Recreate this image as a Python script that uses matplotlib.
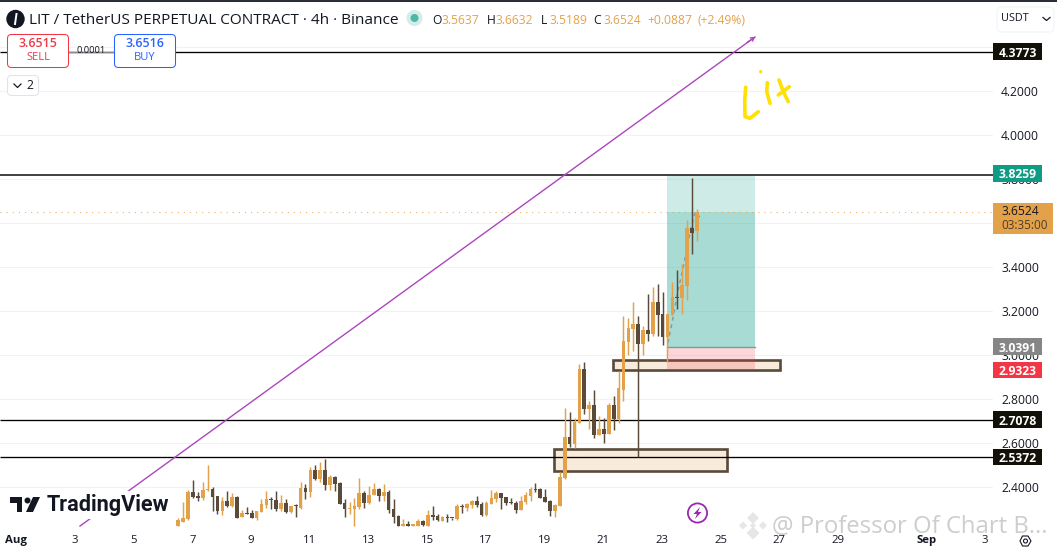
import numpy as np
import matplotlib
matplotlib.use("Agg")
import matplotlib.pyplot as plt
from matplotlib.patches import Rectangle, FancyBboxPatch, Circle, Polygon
from matplotlib.lines import Line2D
from matplotlib.transforms import Affine2D

W, H = 1057, 551
plt.rcParams['font.family'] = ['Open Sans', 'DejaVu Sans']

# OHLC, 4h candles
opens = [2.223,2.244,2.255,2.379,2.359,2.350,2.386,2.391,2.359,2.291,2.336,2.314,2.355,2.264,2.282,2.282,2.259,2.287,2.318,2.349,
         2.341,2.300,2.327,2.287,2.317,2.305,2.395,2.377,2.477,2.436,2.477,2.409,2.445,2.418,2.327,2.302,2.300,2.309,2.373,2.327,
         2.364,2.391,2.359,2.377,2.300,2.268,2.223,2.232,2.223,2.226,2.246,2.226,2.273,2.268,2.249,2.262,2.262,2.258,2.314,2.305,
         2.318,2.336,2.323,2.273,2.323,2.346,2.373,2.355,2.330,2.327,2.296,2.332,2.359,2.391,2.391,2.355,2.336,2.291,2.314,2.441,
         2.627,2.595,2.690,2.939,2.754,2.772,2.636,2.667,2.640,2.772,2.708,2.844,3.062,3.121,3.143,3.053,3.116,3.098,3.243,3.189,
         3.084,3.184,3.266,3.261,3.316,3.579,3.5637]
highs = [2.259,2.332,2.386,2.432,2.379,2.423,2.500,2.400,2.359,2.356,2.382,2.373,2.359,2.299,2.309,2.296,2.291,2.346,2.382,2.355,
         2.382,2.364,2.346,2.314,2.323,2.423,2.414,2.491,2.500,2.513,2.527,2.454,2.450,2.423,2.346,2.332,2.350,2.441,2.382,2.404,
         2.418,2.395,2.414,2.386,2.346,2.273,2.255,2.246,2.232,2.255,2.250,2.296,2.314,2.278,2.268,2.278,2.262,2.323,2.323,2.327,
         2.341,2.359,2.332,2.336,2.386,2.382,2.373,2.355,2.350,2.336,2.359,2.377,2.400,2.418,2.395,2.391,2.341,2.323,2.468,2.758,
         2.740,2.713,2.962,2.971,2.794,2.840,2.726,2.713,2.785,2.813,2.930,3.180,3.171,3.243,3.180,3.134,3.279,3.311,3.325,3.288,
         3.189,3.334,3.388,3.415,3.615,3.805,3.6632]
lows = [2.223,2.241,2.252,2.350,2.336,2.341,2.383,2.291,2.278,2.273,2.309,2.311,2.259,2.264,2.278,2.259,2.250,2.287,2.305,2.300,
        2.291,2.291,2.282,2.282,2.264,2.300,2.346,2.355,2.432,2.423,2.386,2.386,2.382,2.323,2.264,2.278,2.223,2.300,2.305,2.326,
        2.364,2.338,2.336,2.284,2.237,2.223,2.223,2.223,2.223,2.223,2.223,2.223,2.250,2.246,2.246,2.241,2.250,2.250,2.282,2.291,
        2.305,2.309,2.268,2.268,2.323,2.332,2.300,2.318,2.323,2.282,2.296,2.323,2.336,2.377,2.350,2.332,2.268,2.264,2.314,2.436,
        2.581,2.577,2.690,2.731,2.663,2.622,2.636,2.599,2.640,2.658,2.690,2.790,3.003,3.021,2.536,3.003,3.066,3.089,3.089,3.048,
        2.967,3.184,3.211,3.189,3.252,3.461,3.5189]
closes = [2.250,2.259,2.379,2.355,2.352,2.386,2.391,2.355,2.291,2.336,2.314,2.355,2.262,2.282,2.279,2.259,2.291,2.323,2.346,2.344,
          2.300,2.327,2.287,2.314,2.314,2.395,2.377,2.477,2.436,2.477,2.409,2.445,2.414,2.323,2.300,2.305,2.314,2.373,2.327,2.364,
          2.391,2.359,2.377,2.296,2.264,2.223,2.232,2.223,2.232,2.246,2.228,2.273,2.264,2.250,2.264,2.259,2.259,2.314,2.309,2.323,
          2.336,2.318,2.273,2.327,2.350,2.373,2.350,2.327,2.327,2.296,2.336,2.364,2.391,2.386,2.350,2.332,2.291,2.318,2.445,2.627,
          2.595,2.695,2.939,2.754,2.772,2.636,2.667,2.640,2.772,2.708,2.849,3.066,3.125,3.143,3.053,3.116,3.098,3.243,3.184,3.084,
          3.189,3.266,3.261,3.320,3.579,3.556,3.6524]
first_candle_day = 5.52          # days after Aug 1
bar_days = 1 / 6

price_ticks = [2.4, 2.6, 2.8, 3.0, 3.2, 3.4, 3.6, 3.8, 4.0, 4.2, 4.4]
date_ticks = [0, 2, 4, 6, 8, 10, 12, 14, 16, 18, 20, 22, 24, 26, 28, 31, 33]
date_labels = ['Aug', '3', '5', '7', '9', '11', '13', '15', '17', '19', '21', '23', '25', '27', '29', 'Sep', '3']

level_prices = [4.3773, 3.820, 2.7078, 2.5372]
last_price = 3.6524
target, entry, stop = 3.820, 3.0391, 2.9323
pos_days = (22.17, 25.17)
zone1 = (18.33, 24.21, 2.476, 2.574)
zone2 = (20.33, 26.02, 2.933, 2.978)
trend_days = (2.17, 25.17)
trend_prices = (2.224, 4.445)
path_days = [22.2, 22.34, 22.55, 22.72, 22.95, 23.12, 23.29]
path_prices = [3.055, 3.146, 3.296, 3.396, 3.555, 3.646, 3.628]

UP, DOWN = '#E3A14A', '#5A4A3A'
TXT = '#131722'

fig = plt.figure(figsize=(W / 100, H / 100), dpi=100, facecolor='white')
PX = Affine2D().scale(1, -1).translate(0, H)   # pixels from top-left
AX_R, AX_B = 993, 527
ax = fig.add_axes([0, 1 - AX_B / H, AX_R / W, AX_B / H])
ax.set_xlim(-16.3 / 29.35, (AX_R - 16.3) / 29.35)
ax.set_ylim(2.4 - (AX_B - 487.3) / 220.2, 2.4 + 487.3 / 220.2)
for s in ax.spines.values():
    s.set_visible(False)
ax.yaxis.tick_right()
ax.set_yticks(price_ticks, [f'{p:.4f}' for p in price_ticks])
ax.set_xticks(date_ticks, date_labels)
ax.tick_params(axis='y', length=0, pad=5.8, labelsize=8.7, labelcolor=TXT)
ax.tick_params(axis='x', length=0, pad=5.8, labelsize=8.2, labelcolor=TXT)
for lab in ax.get_xticklabels():
    if lab.get_text() in ('Aug', 'Sep'):
        lab.set_fontweight('bold')
ax.grid(axis='y', color='#FBEEF2', lw=0.8)
ax.set_axisbelow(True)


def px(x, y):
    return x / W, 1 - y / H


def add(artist):
    artist.set_transform(PX)
    fig.add_artist(artist)
    artist.set_transform(PX)
    return artist


def poly(points, fc, z=9, **kw):
    return add(Polygon(points, closed=True, fc=fc, lw=kw.pop('lw', 0), zorder=z, **kw))


def circ(x, y, r, fc, z=9, **kw):
    return add(Circle((x, y), r, fc=fc, lw=kw.pop('lw', 0), zorder=z, **kw))


def line(xs, ys, color, lw, z=9, **kw):
    return add(Line2D(xs, ys, color=color, lw=lw, zorder=z, **kw))


# zones
for (x0, x1, p0, p1) in (zone1, zone2):
    ax.add_patch(Rectangle((x0, p0), x1 - x0, p1 - p0, fc='#F8EBDC', ec=DOWN, lw=1.9, zorder=1.6))

# long position tool
px0, px1 = pos_days
ax.add_patch(Rectangle((px0, last_price), px1 - px0, target - last_price, fc='#0F9D8A', alpha=0.20, lw=0, zorder=1.8))
ax.add_patch(Rectangle((px0, entry), px1 - px0, last_price - entry, fc='#0F9D8A', alpha=0.36, lw=0, zorder=1.8))
ax.add_patch(Rectangle((px0, stop), px1 - px0, entry - stop, fc='#F23645', alpha=0.20, lw=0, zorder=1.8))
ax.plot(pos_days, [entry, entry], color='#7F9A94', lw=1.0, zorder=1.9)
ax.plot(path_days, path_prices, color='#8C9A98', lw=1.1, ls=(0, (2.5, 2.5)), zorder=1.9)

# levels
ax.hlines(level_prices, ax.get_xlim()[0], ax.get_xlim()[1], colors=['black', '#2A2A2A', 'black', 'black'],
          lw=[0.95, 1.25, 0.95, 0.95], zorder=2.2)
ax.axhline(last_price, color=UP, lw=0.8, alpha=0.8, ls=(0, (1, 4.5)), zorder=2.1)

# trend line
ax.plot(trend_days, trend_prices, color='#AB47BC', lw=1.0, zorder=2.3)
ax.annotate('', xy=(trend_days[1], trend_prices[1]), xytext=(24.9, 4.42), zorder=2.3, annotation_clip=False,
            arrowprops=dict(arrowstyle='->,head_length=0.22,head_width=0.14', color='#AB47BC', lw=1.0, shrinkA=0, shrinkB=0))

# candles
o, h, l, c = map(np.array, (opens, highs, lows, closes))
t = first_candle_day + np.arange(len(o)) * bar_days
cols = np.where(c >= o, UP, DOWN)
ax.vlines(t, l, h, colors=cols, lw=1.05, zorder=3)
bottoms = np.minimum(o, c)
heights = np.maximum(np.abs(c - o), 0.005)
ax.bar(t, heights, width=0.125, bottom=bottoms, color=cols, lw=0, zorder=3.1)


# right price labels
def price_label(price, text, bg, fg='white', width=49, height=16.8):
    tr = ax.get_yaxis_transform()
    ax.add_patch(Rectangle((1, price - height / 2 / 220.2), width / AX_R, height / 220.2, transform=tr,
                           fc=bg, lw=0, clip_on=False, zorder=6))
    ax.text(1 + (width / 2) / AX_R, price, text, transform=tr, ha='center', va='center_baseline', color=fg,
            fontsize=8.7, fontweight='bold', clip_on=False, zorder=7)


price_label(4.3773, '4.3773', '#131008')
price_label(3.8259, '3.8259', '#0E9C85')
price_label(3.0391, '3.0391', '#868686')
price_label(2.9323, '2.9323', '#F23645')
price_label(2.7078, '2.7078', '#131008')
price_label(2.5372, '2.5372', '#131008')

add(Rectangle((993, 203), 60, 31, fc=UP, lw=0, zorder=6))
fig.text(*px(1001, 211.5), '3.6524', color=TXT, fontsize=8.7, va='center', zorder=7)
fig.text(*px(1001, 226), '03:35:00', color='#4A3F2E', fontsize=8.5, va='center', zorder=7)

# top bar
add(Rectangle((0, 0), W, 2, fc='#2A2E39', lw=0, zorder=8))

# header
circ(15.5, 19, 9.2, '#131722', z=8)
line([16.5, 15], [14, 24], 'white', 1.4)
fig.text(*px(29, 20), 'LIT / TetherUS PERPETUAL CONTRACT · 4h · Binance', color=TXT, fontsize=11.05, va='center', zorder=8)
circ(414.5, 18, 8, '#D3EEE9', z=8)
circ(414.5, 18, 4, '#4DB8A8')
for x, s, col in [(432, 'O', TXT), (441.5, '3.5637', UP), (486.5, 'H', TXT), (496, '3.6632', UP), (541, 'L', TXT),
                  (549, '3.5189', UP), (593, 'C', TXT), (603, '3.6524', UP), (647, '+0.0887', UP), (698, '(+2.49%)', UP)]:
    fig.text(*px(x, 20), s, color=col, fontsize=8.7, va='center', zorder=8)

# sell / buy
line([69, 114], [52.3, 52.3], '#8A8A8A', 0.95, z=8)


def rbox(x0, y0, x1, y1, ec, lw=0.75, fc='white', r=4):
    add(FancyBboxPatch((x0, y0), x1 - x0, y1 - y0, boxstyle=f'round,pad=0,rounding_size={r}', fc=fc, ec=ec, lw=lw, zorder=8))


rbox(7.5, 34.5, 68.5, 67.5, '#F23645')
rbox(114.5, 34.5, 175.5, 67.5, '#2962FF')
fig.text(*px(38, 43.5), '3.6515', color='#F23645', fontsize=8.9, ha='center', va='center', fontweight='semibold', zorder=9)
fig.text(*px(38, 58), 'SELL', color='#F23645', fontsize=8.0, ha='center', va='center', zorder=9)
fig.text(*px(145, 43.5), '3.6516', color='#2962FF', fontsize=8.9, ha='center', va='center', fontweight='semibold', zorder=9)
fig.text(*px(145, 58), 'BUY', color='#2962FF', fontsize=8.0, ha='center', va='center', zorder=9)
fig.text(*px(91.5, 50.5), '0.0001', color=TXT, fontsize=6.7, ha='center', va='center', zorder=9)

rbox(7.5, 75.5, 38.5, 95.5, '#E0E3EB')
line([14, 17.5, 21], [84, 87.5, 84], TXT, 0.9)
fig.text(*px(30, 85.5), '2', color=TXT, fontsize=8.7, ha='center', va='center', zorder=9)

rbox(997, 7, 1054, 32, '#F0F3FA', r=5)
fig.text(*px(1000.5, 18.5), 'USDT', color=TXT, fontsize=7.8, va='center', zorder=9)
line([1043, 1046.5, 1050], [17.5, 20.5, 17.5], TXT, 0.9)

# handwriting
yellow = '#FFE000'
strokes = [[(745.7, 87.3), (744.7, 100), (745, 116.7), (750, 118.3), (758.3, 111.7)],
           [(767.3, 82.7), (766.7, 91.7), (770, 103.3)],
           [(779, 80), (783.3, 91.7), (788.3, 101.7)],
           [(789.3, 86.7), (778.3, 95)]]
for st in strokes:
    xs, ys = zip(*st)
    line(xs, ys, yellow, 2.6, z=5, solid_capstyle='round', solid_joinstyle='round')
circ(760.7, 71.7, 1.7, yellow, z=5)

# TradingView logo
fig.text(*px(46.5, 505), 'TradingView', color='#131722', fontsize=15.6, fontweight='bold', family='Roboto', va='center',
         zorder=8, bbox=dict(fc='white', ec='none', pad=2))
poly([(10, 497), (22, 497), (22, 512), (17, 512), (17, 503), (10, 503)], '#131722')
circ(27.5, 500.5, 3, '#131722')
poly([(33, 497), (40, 497), (33, 512), (26, 512)], '#131722')

# lightning badge
circ(697.5, 513, 9.6, 'white', z=8, ec='#9C27B0', lw=1.3)
poly([(700, 507), (693.5, 514), (697, 514), (695, 519), (701.5, 512), (698, 512)], '#9C27B0')

# watermark
wm = '#CDCDCD'
for cx, cy, r in [(753, 518, 6), (753, 533, 6.5), (743, 525.5, 4), (763, 525.5, 4), (753, 525.5, 3)]:
    poly([(cx, cy - r), (cx + r, cy), (cx, cy + r), (cx - r, cy)], '#E6E6E6', z=5)
fig.text(*px(772, 527), '@ Professor Of Chart B...', color=wm, fontsize=17.2, va='center', zorder=5)

# settings icon
poly([(1020, 541), (1022.5, 536), (1028, 536), (1031, 541), (1028, 546), (1022.5, 546)], 'white', ec=TXT, lw=0.8)
circ(1025.5, 541, 2, 'white', ec=TXT, lw=0.8)

fig.savefig('out.png', dpi=100)
